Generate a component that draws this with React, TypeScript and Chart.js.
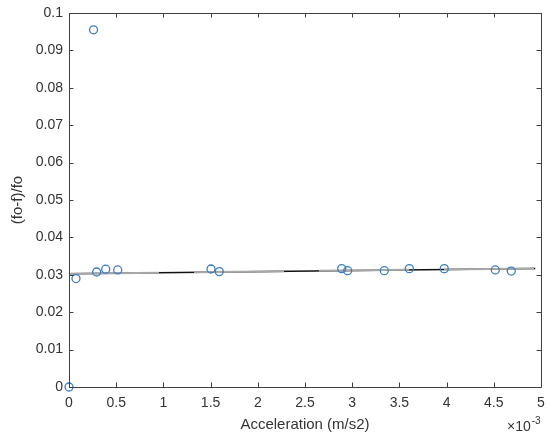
import React, { useEffect, useRef } from "react";
import { Chart, registerables } from "chart.js";

Chart.register(...registerables);

// Measured data (acceleration in m/s2, relative frequency shift)
const accel = [0, 0.000074, 0.00026, 0.000293, 0.000389, 0.000516, 0.001504, 0.001592, 0.002889, 0.002952, 0.00334, 0.003605, 0.003975, 0.004516, 0.004685];
const ratio = [0, 0.029, 0.0955, 0.03075, 0.0315, 0.0313, 0.03155, 0.03085, 0.03165, 0.0311, 0.0311, 0.03165, 0.03165, 0.0313, 0.031];

// Linear fit line end points
const fitX = [0, 0.00494];
const fitY = [0.0303, 0.0317];

// Tick values
const xTicks = [0, 0.0005, 0.001, 0.0015, 0.002, 0.0025, 0.003, 0.0035, 0.004, 0.0045, 0.005];
const yTicks = [0, 0.01, 0.02, 0.03, 0.04, 0.05, 0.06, 0.07, 0.08, 0.09, 0.1];

const FONT = "'Liberation Sans', Arial, Helvetica, sans-serif";
const AXIS = "#404040";
const TEXT = "#333333";

const framePlugin = {
  id: "frame",
  afterDraw(chart: any) {
    const { ctx, chartArea } = chart;
    const { left, right, top, bottom } = chartArea;
    const xs = chart.scales.x;
    const ys = chart.scales.y;
    ctx.save();
    ctx.strokeStyle = AXIS;
    ctx.lineWidth = 1;
    ctx.beginPath();
    ctx.rect(Math.round(left) + 0.5, Math.round(top) + 0.5, Math.round(right - left), Math.round(bottom - top));
    ctx.stroke();
    const tl = 4.5;
    ctx.beginPath();
    xTicks.forEach((v) => {
      const px = Math.round(xs.getPixelForValue(v)) + 0.5;
      ctx.moveTo(px, bottom);
      ctx.lineTo(px, bottom - tl);
      ctx.moveTo(px, top);
      ctx.lineTo(px, top + tl);
    });
    yTicks.forEach((v) => {
      const py = Math.round(ys.getPixelForValue(v)) + 0.5;
      ctx.moveTo(left, py);
      ctx.lineTo(left + tl, py);
      ctx.moveTo(right, py);
      ctx.lineTo(right - tl, py);
    });
    ctx.stroke();
    // exponent label
    ctx.fillStyle = TEXT;
    ctx.textBaseline = "alphabetic";
    ctx.textAlign = "left";
    ctx.font = `14px ${FONT}`;
    const bx = 507;
    const by = 431;
    ctx.fillText("\u00d710", bx, by);
    const w = ctx.measureText("\u00d710").width;
    ctx.font = `10px ${FONT}`;
    ctx.fillText("-3", bx + w + 1, by - 7);
    ctx.restore();
  },
};

export default function App() {
  const ref = useRef<HTMLCanvasElement | null>(null);
  useEffect(() => {
    if (!ref.current) return;
    const chart = new Chart(ref.current, {
      type: "scatter",
      data: {
        datasets: [
          {
            type: "scatter",
            data: accel.map((x, i) => ({ x, y: ratio[i] })),
            borderColor: "#3a7cc4",
            backgroundColor: "rgba(0,0,0,0)",
            borderWidth: 1.3,
            pointRadius: 4,
            pointStyle: "circle",
            clip: false,
            order: 0,
          } as any,
          {
            type: "line",
            data: fitX.map((x, i) => ({ x, y: fitY[i] })),
            borderColor: "#a8a8a8",
            borderWidth: 2,
            borderDash: [90, 35],
            pointRadius: 0,
            showLine: true,
            order: 1,
          } as any,
          {
            type: "line",
            data: fitX.map((x, i) => ({ x, y: fitY[i] })),
            borderColor: "#111111",
            borderWidth: 1.5,
            pointRadius: 0,
            showLine: true,
            order: 2,
          } as any,
        ],
      },
      options: {
        animation: false,
        responsive: false,
        maintainAspectRatio: false,
        layout: { padding: { left: 0, right: 7, top: 13, bottom: 0 } },
        plugins: { legend: { display: false }, tooltip: { enabled: false } },
        scales: {
          x: {
            type: "linear",
            min: 0,
            max: 0.005,
            grid: { display: false, drawTicks: false },
            border: { display: false },
            afterBuildTicks: (s: any) => {
              s.ticks = xTicks.map((v) => ({ value: v }));
            },
            afterFit: (s: any) => {
              s.height = 47;
              s.paddingLeft = 0;
              s.paddingRight = 0;
            },
            ticks: {
              padding: 8,
              color: TEXT,
              font: { family: FONT, size: 14 },
              maxRotation: 0,
              autoSkip: false,
              callback: (v: any) => String(Math.round(Number(v) * 10000) / 10),
            },
            title: {
              display: true,
              text: "Acceleration (m/s2)",
              color: TEXT,
              font: { family: FONT, size: 15 },
              padding: { top: 0, bottom: 0 },
            },
          },
          y: {
            type: "linear",
            min: 0,
            max: 0.1,
            grid: { display: false, drawTicks: false },
            border: { display: false },
            afterBuildTicks: (s: any) => {
              s.ticks = yTicks.map((v) => ({ value: v }));
            },
            afterFit: (s: any) => {
              s.width = 69;
              s.paddingTop = 0;
              s.paddingBottom = 0;
            },
            ticks: {
              padding: 6,
              color: TEXT,
              font: { family: FONT, size: 14 },
              autoSkip: false,
              callback: (v: any) => String(Math.round(Number(v) * 100) / 100),
            },
            title: {
              display: true,
              text: "(fo-f)/fo",
              color: TEXT,
              font: { family: FONT, size: 15 },
              padding: { top: 9, bottom: 0 },
            },
          },
        },
      },
      plugins: [framePlugin],
    } as any);
    return () => chart.destroy();
  }, []);
  return (
    <div style={{ position: "fixed", left: 0, top: 0, width: 548, height: 434, background: "#fff" }}>
      <canvas ref={ref} width={548} height={434} style={{ width: 548, height: 434, display: "block" }} />
    </div>
  );
}
